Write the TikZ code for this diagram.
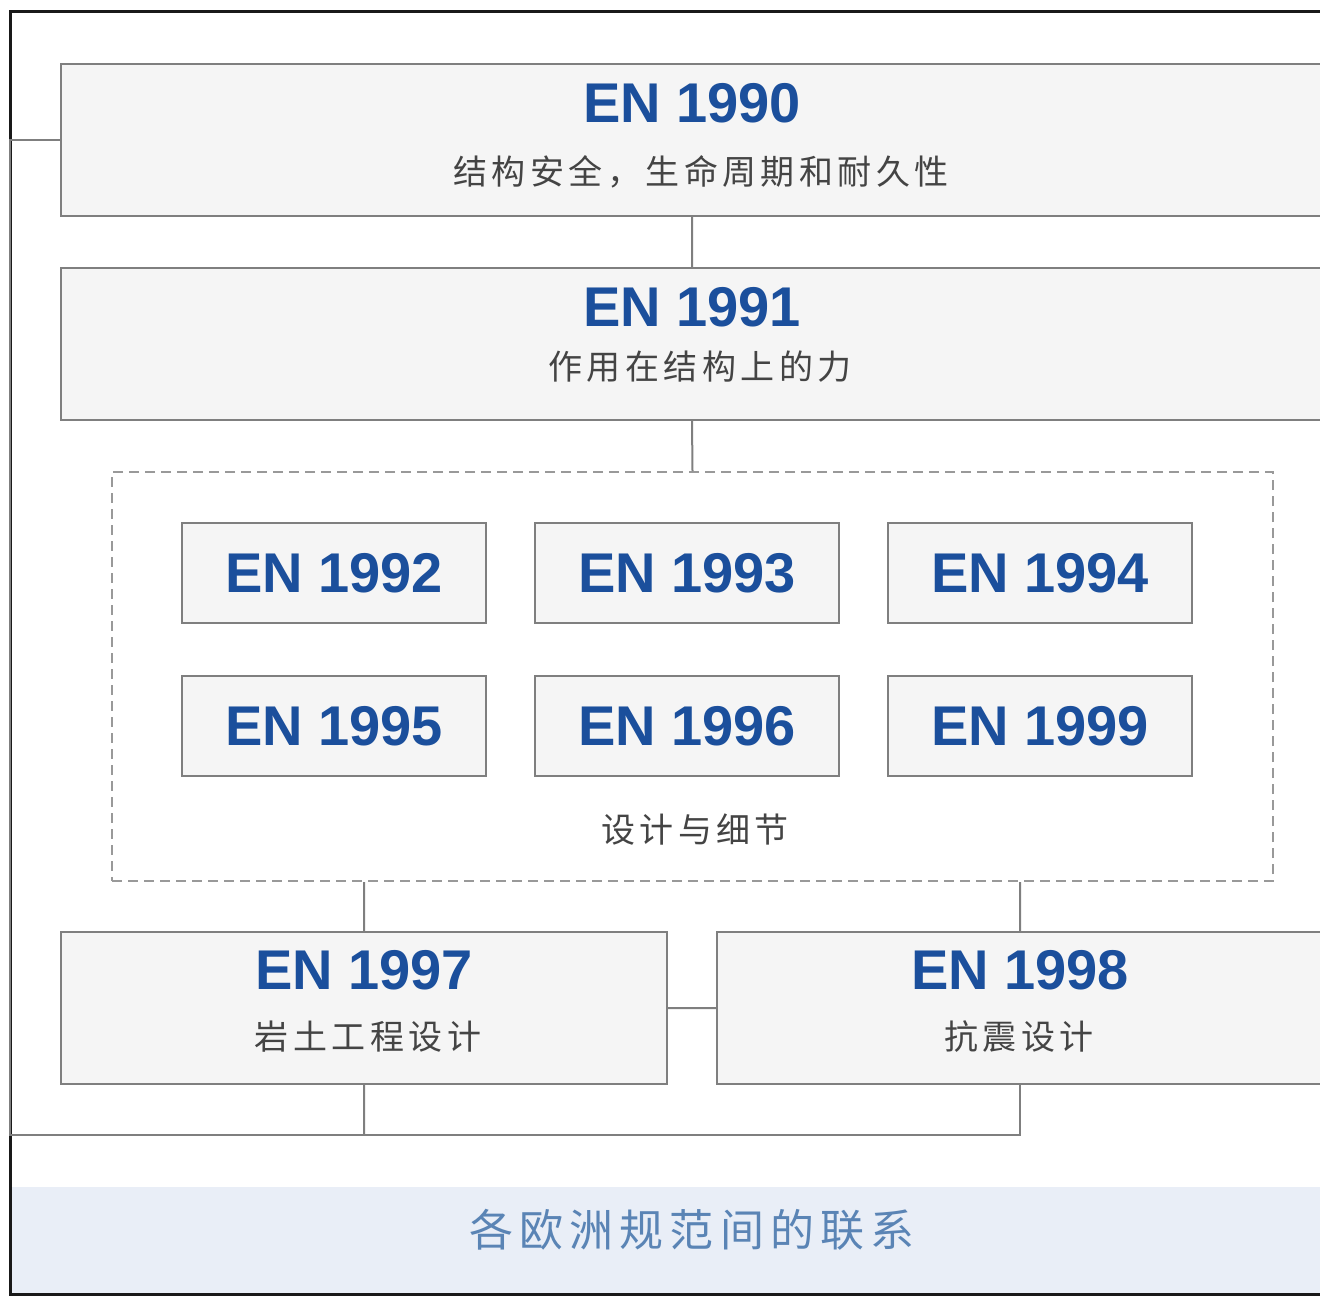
\documentclass[tikz,border=0pt]{standalone}
\usepackage{fontspec}
\setmainfont{Liberation Sans}
\newfontfamily\cjk[LetterSpace=13]{Noto Sans CJK SC}
\newfontfamily\cjkwide[LetterSpace=14]{Noto Sans CJK SC}
\usepackage{tikz}

\definecolor{enblue}{HTML}{1B4F9C}
\definecolor{boxgray}{HTML}{7F7F7F}
\definecolor{boxfill}{HTML}{F5F5F5}
\definecolor{bandfill}{HTML}{E9EEF7}
\definecolor{bandtext}{HTML}{5A84B5}
\definecolor{subgray}{HTML}{444444}

\begin{document}
\begin{tikzpicture}[x=1pt,y=-1pt,node distance=353pt,
        bigbox/.style={draw=boxgray,line width=2pt,fill=boxfill,
          minimum width=1262pt,minimum height=152pt,inner sep=0pt},
        halfbox/.style={bigbox,minimum width=606pt},
        smallbox/.style={draw=boxgray,line width=2pt,fill=boxfill,
          minimum width=304pt,minimum height=100pt,inner sep=0pt,
          text=enblue,font=\fontsize{56}{60}\selectfont\bfseries},
        entitle/.style={text=enblue,inner sep=0pt,
          font=\fontsize{56}{60}\selectfont\bfseries},
        subtitle/.style={text=subgray,inner sep=0pt,
          font=\fontsize{34}{38}\selectfont\cjk},
        link/.style={draw=boxgray,line width=2pt}]

  \useasboundingbox (0,0) rectangle (1320,1296);
  \clip (0,0) rectangle (1320,1296);

  % frame and caption band
  \fill[bandfill] (11,1187) rectangle (1330,1293);
  \draw[line width=3pt,draw=black!90] (10,11) rectangle (1330,1294);
  \node[text=bandtext,inner sep=0pt,font=\fontsize{44}{48}\selectfont\cjkwide]
    (caption) at (692,1230) {各欧洲规范间的联系};

  \node[bigbox] (en1990) at (692,139.5) {};
  \node[entitle] (t1990) at (692,103) {EN 1990};
  \node[subtitle] (s1990) at (701,172) {结构安全，生命周期和耐久性};

  \node[bigbox] (en1991) at (692,344) {};
  \node[entitle] (t1991) at (692,307) {EN 1991};
  \node[subtitle] (s1991) at (700,367) {作用在结构上的力};

  % design group
  \node[draw=boxgray!80,line width=2pt,dash pattern=on 10pt off 6pt,
        minimum width=1161pt,minimum height=409pt] (group) at (692.5,676.5) {};
  \node[smallbox] (en1992) at (334,573) {EN 1992};
  \node[smallbox] (en1993) [right of=en1992] {EN 1993};
  \node[smallbox] (en1994) [right of=en1993] {EN 1994};
  \node[smallbox] (en1995) [below of=en1992,node distance=153pt] {EN 1995};
  \node[smallbox] (en1996) [right of=en1995] {EN 1996};
  \node[smallbox] (en1999) [right of=en1996] {EN 1999};
  \node[subtitle] (detail) at (695,830) {设计与细节};

  \node[halfbox] (en1997) at (364,1008) {};
  \node[entitle] (t1997) at (364,970) {EN 1997};
  \node[subtitle] (s1997) at (368,1037) {岩土工程设计};

  \node[halfbox] (en1998) at (1020,1008) {};
  \node[entitle] (t1998) at (1020,970) {EN 1998};
  \node[subtitle] (s1998) at (1019,1037) {抗震设计};

  \coordinate (loop) at (10,1135);

  \path[link] (en1990.south) -- (en1991.north)
              (en1991.south) -- (group.north)
              (en1997.north) -- (en1997.north |- group.south)
              (en1998.north) -- (en1998.north |- group.south)
              (en1997.east) -- (en1998.west)
              (en1997.south) -- (en1997.south |- loop);
  \draw[link] (en1990.west) -- (loop |- en1990.west) -- (loop) -| (en1998.south);

\end{tikzpicture}
\end{document}
